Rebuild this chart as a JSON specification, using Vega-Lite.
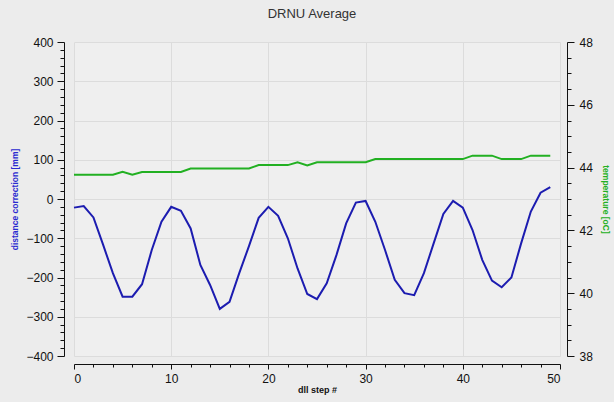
{
  "$schema": "https://vega.github.io/schema/vega-lite/v6.json",
  "autosize": "none",
  "width": 486,
  "height": 314,
  "padding": {"left": 74, "top": 42, "right": 54, "bottom": 46},
  "background": "#ececec",
  "title": {"text": "DRNU Average", "font": "Liberation Sans", "fontSize": 13, "fontWeight": "normal", "color": "#333333", "offset": 15, "dx": -5, "frame": "group"},
  "config": {
    "view": {"fill": "#efefef", "stroke": null},
    "axis": {"labelFont": "Liberation Sans", "labelFontSize": 12, "labelColor": "#111111", "tickColor": "#111111", "domainColor": "#111111", "domainWidth": 1, "tickWidth": 1, "gridColor": "#dcdcdc", "titleFont": "Liberation Sans"}
  },
  "data": {"values": [
    {"step": 0, "dist": -22, "temp": 43.77},
    {"step": 1, "dist": -18, "temp": 43.77},
    {"step": 2, "dist": -47, "temp": 43.77},
    {"step": 3, "dist": -117, "temp": 43.77},
    {"step": 4, "dist": -189, "temp": 43.77},
    {"step": 5, "dist": -249, "temp": 43.87},
    {"step": 6, "dist": -249, "temp": 43.77},
    {"step": 7, "dist": -217, "temp": 43.86},
    {"step": 8, "dist": -130, "temp": 43.86},
    {"step": 9, "dist": -58, "temp": 43.86},
    {"step": 10, "dist": -20, "temp": 43.86},
    {"step": 11, "dist": -30, "temp": 43.86},
    {"step": 12, "dist": -75, "temp": 43.97},
    {"step": 13, "dist": -168, "temp": 43.97},
    {"step": 14, "dist": -219, "temp": 43.97},
    {"step": 15, "dist": -280, "temp": 43.97},
    {"step": 16, "dist": -262, "temp": 43.97},
    {"step": 17, "dist": -189, "temp": 43.97},
    {"step": 18, "dist": -120, "temp": 43.97},
    {"step": 19, "dist": -48, "temp": 44.08},
    {"step": 20, "dist": -20, "temp": 44.08},
    {"step": 21, "dist": -43, "temp": 44.08},
    {"step": 22, "dist": -100, "temp": 44.08},
    {"step": 23, "dist": -177, "temp": 44.17},
    {"step": 24, "dist": -242, "temp": 44.07},
    {"step": 25, "dist": -255, "temp": 44.17},
    {"step": 26, "dist": -215, "temp": 44.17},
    {"step": 27, "dist": -143, "temp": 44.17},
    {"step": 28, "dist": -62, "temp": 44.17},
    {"step": 29, "dist": -9, "temp": 44.17},
    {"step": 30, "dist": -5, "temp": 44.17},
    {"step": 31, "dist": -58, "temp": 44.27},
    {"step": 32, "dist": -130, "temp": 44.27},
    {"step": 33, "dist": -206, "temp": 44.27},
    {"step": 34, "dist": -240, "temp": 44.27},
    {"step": 35, "dist": -245, "temp": 44.27},
    {"step": 36, "dist": -189, "temp": 44.27},
    {"step": 37, "dist": -113, "temp": 44.27},
    {"step": 38, "dist": -38, "temp": 44.27},
    {"step": 39, "dist": -5, "temp": 44.27},
    {"step": 40, "dist": -22, "temp": 44.27},
    {"step": 41, "dist": -79, "temp": 44.38},
    {"step": 42, "dist": -155, "temp": 44.38},
    {"step": 43, "dist": -208, "temp": 44.38},
    {"step": 44, "dist": -225, "temp": 44.27},
    {"step": 45, "dist": -200, "temp": 44.27},
    {"step": 46, "dist": -113, "temp": 44.27},
    {"step": 47, "dist": -32, "temp": 44.38},
    {"step": 48, "dist": 16, "temp": 44.38},
    {"step": 49, "dist": 30, "temp": 44.38}
  ]},
  "layer": [
    {
      "mark": {"type": "line", "color": "#1c1cb0", "strokeWidth": 2},
      "encoding": {
        "x": {"field": "step", "type": "quantitative", "scale": {"domain": [0, 50], "nice": false},
              "axis": {"title": "dll step #", "titleFontSize": 9, "titleFontWeight": "bold", "titleColor": "#111111", "titlePadding": 1, "values": [0, 10, 20, 30, 40, 50], "offset": 8, "tickSize": 5, "labelPadding": 4, "grid": true}},
        "y": {"field": "dist", "type": "quantitative", "scale": {"domain": [-400, 400], "nice": false},
              "axis": {"orient": "left", "title": "distance correction [mm]", "titleFontSize": 8.5, "titleFontWeight": "bold", "titleColor": "#2a2ad0", "titlePadding": 6, "values": [-400, -300, -200, -100, 0, 100, 200, 300, 400], "offset": 10, "tickSize": 7, "labelPadding": 4, "grid": true}}
      }
    },
    {
      "mark": {"type": "line", "color": "#22b022", "strokeWidth": 2},
      "encoding": {
        "x": {"field": "step", "type": "quantitative", "scale": {"domain": [0, 50], "nice": false}, "axis": null},
        "y": {"field": "temp", "type": "quantitative", "scale": {"domain": [38, 48], "nice": false, "zero": false},
              "axis": {"orient": "right", "title": "temperature [oC]", "titleFontSize": 8.5, "titleFontWeight": "bold", "titleColor": "#22b022", "titlePadding": 8, "values": [38, 40, 42, 44, 46, 48], "offset": 7, "tickSize": 7, "labelPadding": 5, "grid": false}}
      }
    },
    {
      "mark": {"type": "point", "opacity": 0},
      "encoding": {
        "x": {"field": "step", "type": "quantitative", "scale": {"domain": [0, 50], "nice": false},
              "axis": {"orient": "bottom", "title": null, "labels": false, "domain": false, "grid": false, "values": [2, 4, 6, 8, 12, 14, 16, 18, 22, 24, 26, 28, 32, 34, 36, 38, 42, 44, 46, 48], "offset": 8, "tickSize": 3}},
        "y": {"field": "dist", "type": "quantitative", "scale": {"domain": [-400, 400], "nice": false},
              "axis": {"orient": "left", "title": null, "labels": false, "domain": false, "grid": false, "values": [-380, -360, -340, -320, -280, -260, -240, -220, -180, -160, -140, -120, -80, -60, -40, -20, 20, 40, 60, 80, 120, 140, 160, 180, 220, 240, 260, 280, 320, 340, 360, 380], "offset": 10, "tickSize": 4}}
      }
    },
    {
      "mark": {"type": "point", "opacity": 0},
      "encoding": {
        "x": {"field": "step", "type": "quantitative", "scale": {"domain": [0, 50], "nice": false}, "axis": null},
        "y": {"field": "temp", "type": "quantitative", "scale": {"domain": [38, 48], "nice": false, "zero": false},
              "axis": {"orient": "right", "title": null, "labels": false, "domain": false, "grid": false, "values": [38.5, 39, 39.5, 40.5, 41, 41.5, 42.5, 43, 43.5, 44.5, 45, 45.5, 46.5, 47, 47.5], "offset": 7, "tickSize": 4}}
      }
    }
  ],
  "resolve": {"scale": {"x": "independent", "y": "independent"}, "axis": {"x": "independent", "y": "independent"}}
}
